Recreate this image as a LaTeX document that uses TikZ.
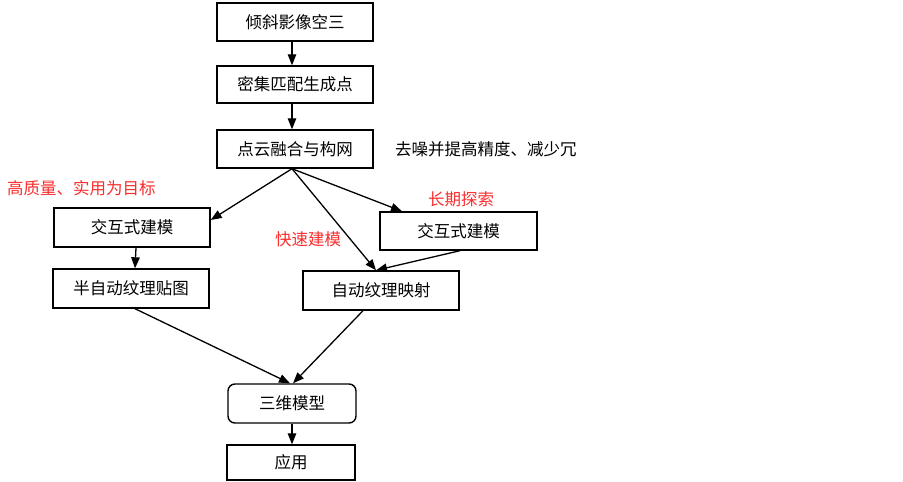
\documentclass[tikz,border=0pt]{standalone}
\usepackage{fontspec}
\setmainfont{Noto Sans CJK SC}
\usetikzlibrary{arrows.meta}
\definecolor{redtxt}{RGB}{250,45,45}
\begin{document}
\begin{tikzpicture}[x=1pt,y=-1pt,
  every node/.style={font=\fontsize{16.5}{19}\selectfont},
  stepbox/.style={draw=black,line width=1.4pt,rectangle,minimum width=156pt,minimum height=38pt,inner sep=0pt,fill=white},
  roundbox/.style={stepbox,rounded corners=7pt,minimum width=128pt},
  note/.style={anchor=west,inner sep=0pt},
  rednote/.style={note,text=redtxt},
  conn/.style={draw=black,line width=1.3pt,-{Triangle[length=11pt,width=8.5pt]}}
]
\useasboundingbox[fill=white] (0,0) rectangle (903,482);
\node[stepbox] (b1) at (295,22) {倾斜影像空三};
\node[stepbox,minimum height=37pt] (b2) at (295,84.5) {密集匹配生成点};
\node[stepbox] (b3) at (295,149) {点云融合与构网};
\node[stepbox,minimum height=39pt] (lb1) at (132,227.5) {交互式建模};
\node[stepbox,minimum height=39pt] (lb2) at (131,288.5) {半自动纹理贴图};
\node[stepbox,minimum width=157pt] (rb) at (458.5,231) {交互式建模};
\node[stepbox,minimum height=39pt] (am) at (381,290.5) {自动纹理映射};
\node[roundbox,minimum height=39pt] (m) at (292,403.5) {三维模型};
\node[stepbox,minimum width=128pt,minimum height=35pt] (app) at (291,462.5) {应用};

\node[note] (n1) at (395,149) {去噪并提高精度、减少冗};
\node[rednote] (n2) at (7,188) {高质量、实用为目标};
\node[rednote] (n3) at (428,199) {长期探索};
\node[rednote] (n4) at (275,239) {快速建模};

\draw[conn] ([xshift=-3pt]b1.south) -- ([xshift=-3pt]b2.north);
\draw[conn] ([xshift=-3pt]b2.south) -- ([xshift=-3pt]b3.north);
\coordinate (fan) at ([xshift=-3pt]b3.south);
\draw[conn] (fan) -- ([yshift=7.5pt]lb1.east);
\draw[conn] (fan) -- ([xshift=-56.5pt]rb.north);
\draw[conn] (fan) -- ([xshift=-5pt]am.north);
\draw[conn] ([xshift=1.5pt]rb.south) -- ([xshift=-5pt]am.north);
\draw[conn] ([xshift=4pt]lb1.south) -- ([xshift=4pt]lb2.north);
\draw[conn] ([xshift=4pt]lb2.south) -- ([xshift=-2pt]m.north);
\draw[conn] ([xshift=-18pt]am.south) -- ([xshift=1pt]m.north);
\draw[conn] (m.south) -- ([xshift=1pt]app.north);
\end{tikzpicture}
\end{document}
